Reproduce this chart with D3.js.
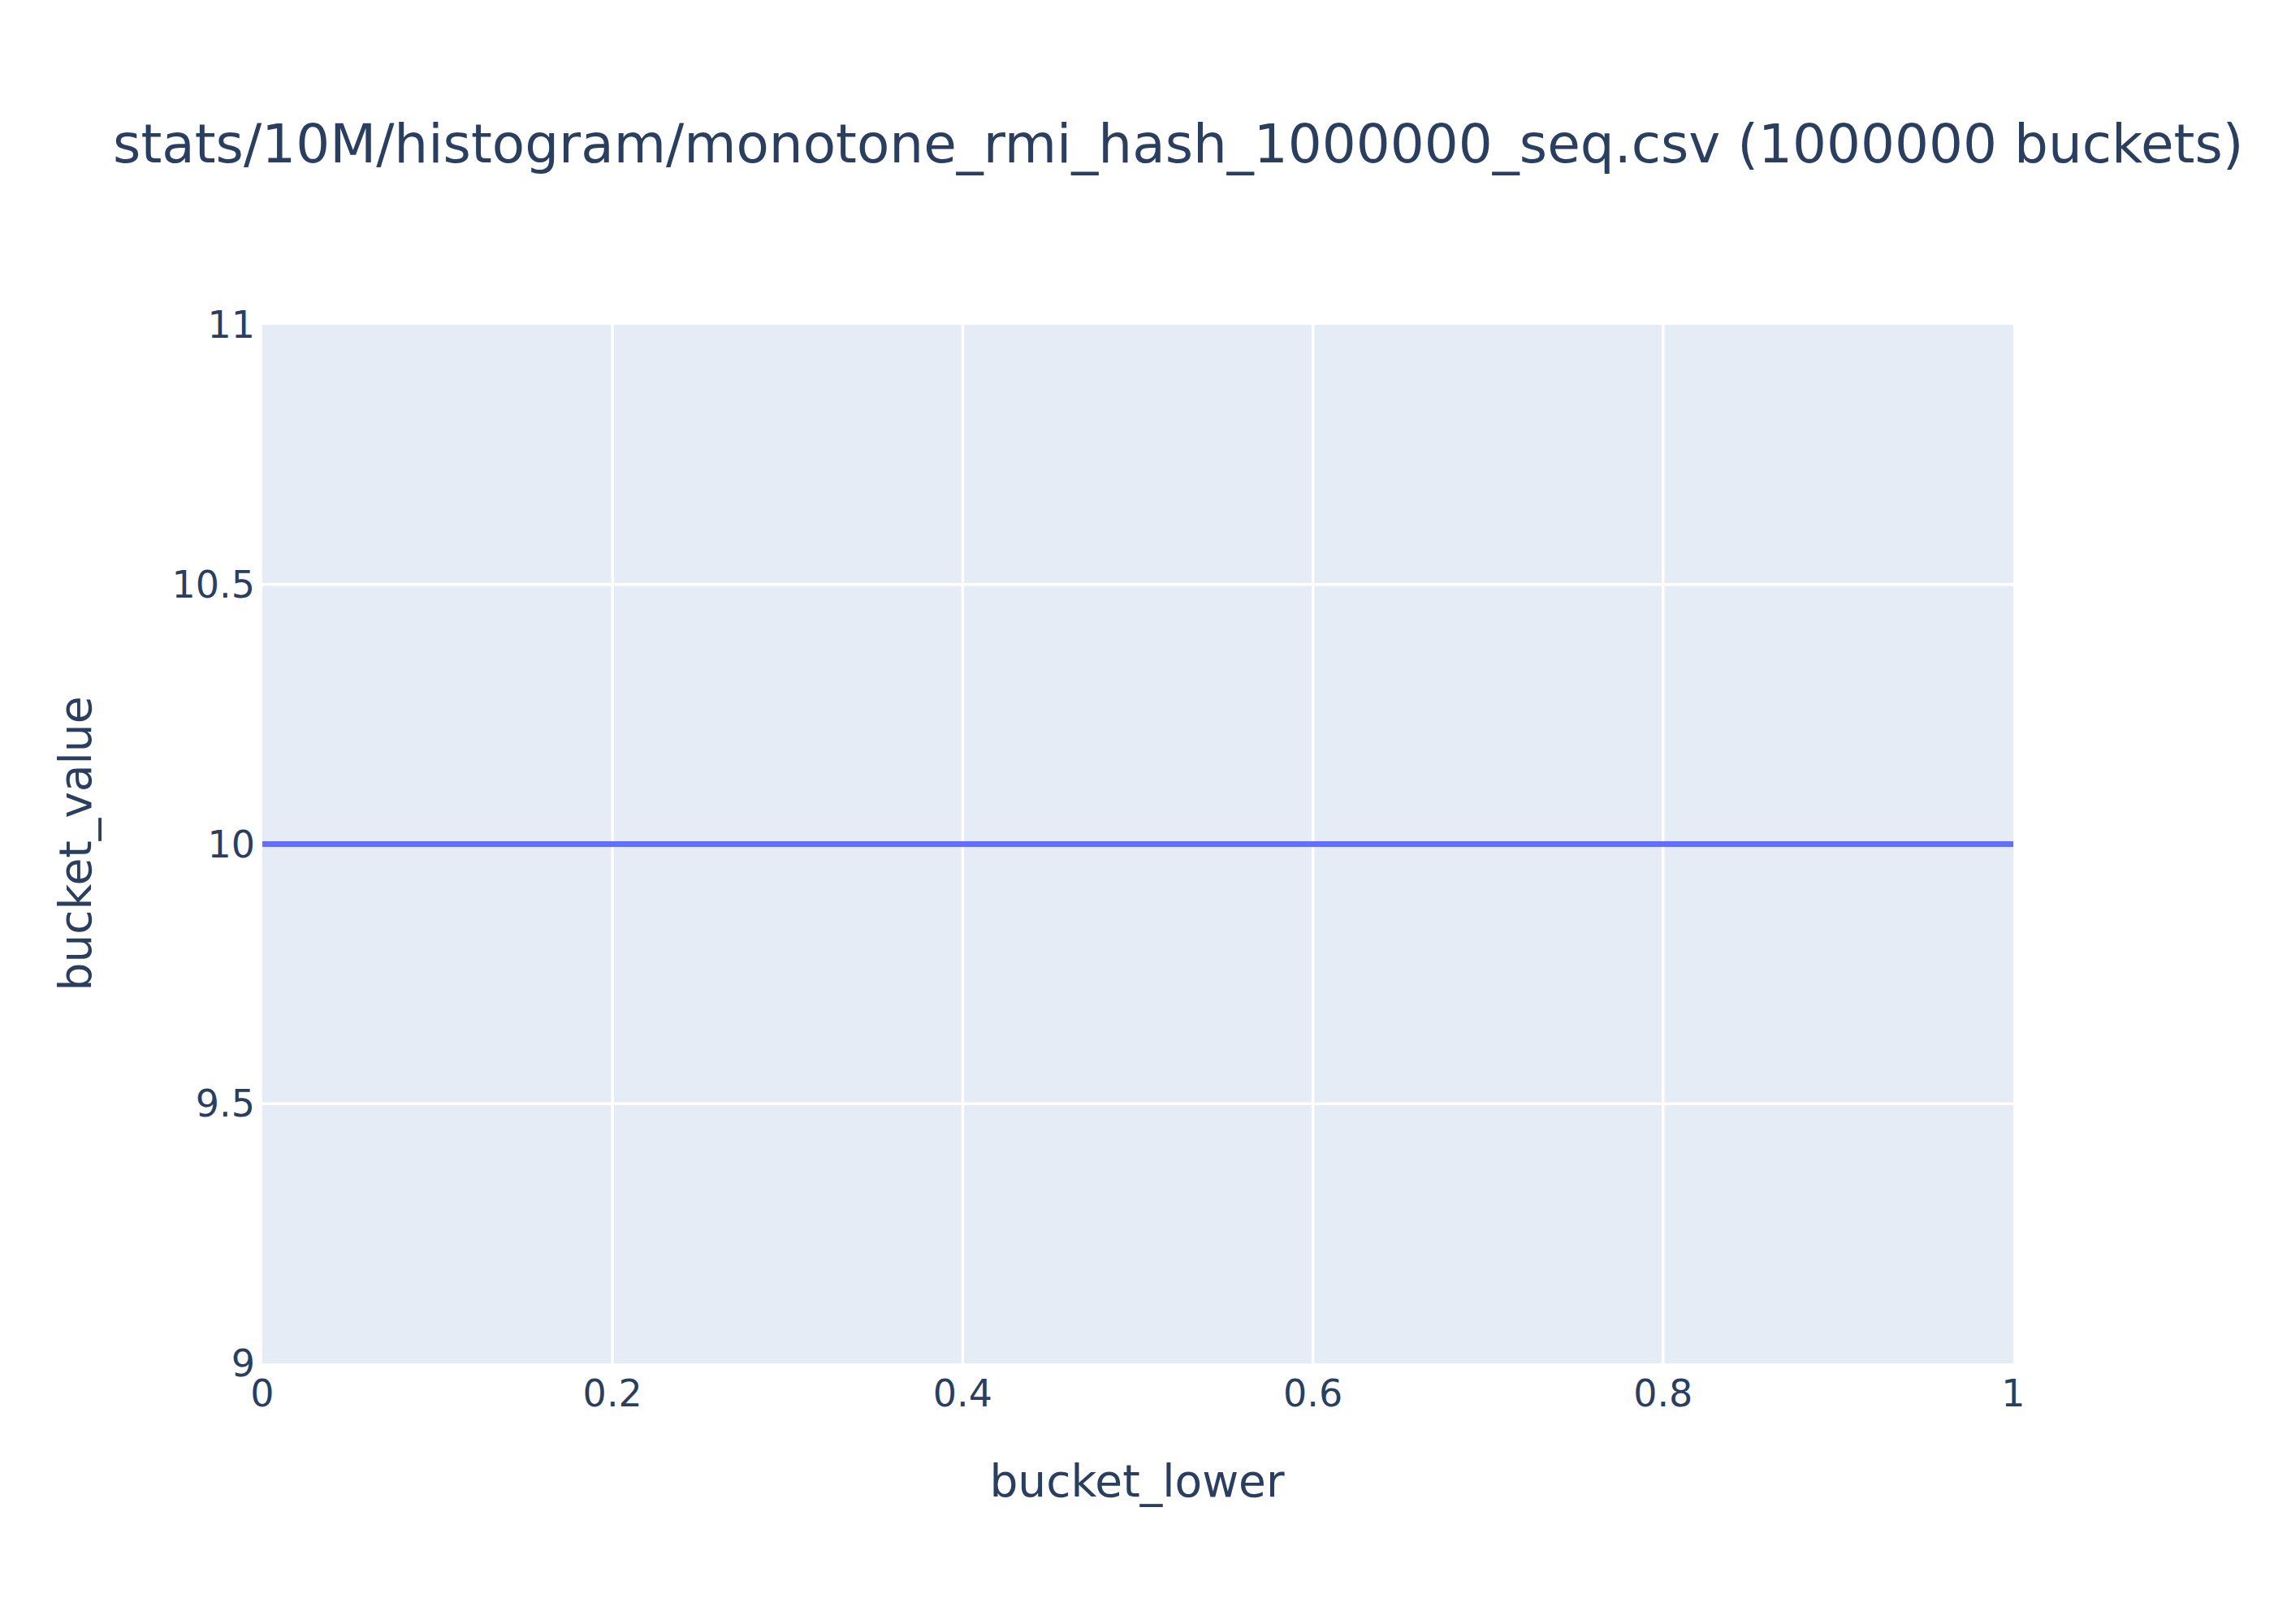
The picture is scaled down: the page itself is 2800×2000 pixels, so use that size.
<!DOCTYPE html>
<html><head><meta charset="utf-8">
<script src="https://cdn.jsdelivr.net/npm/d3@7"></script>
<style>body{margin:0;background:#fff}svg{display:block}</style>
</head><body>
<script>
const bucketLower = [0, 1];
const bucketValue = [10, 10];
const xTicks = [0, 0.2, 0.4, 0.6, 0.8, 1];
const yTicks = [9, 9.5, 10, 10.5, 11];
const titleText = "stats/10M/histogram/monotone_rmi_hash_1000000_seq.csv (1000000 buckets)";

const W = 2800, H = 2000;
const m = {l: 323, r: 2479, t: 400, b: 1679};
const font = "'DejaVu Sans', 'Open Sans', sans-serif";
const col = "#2a3f5f";
const svg = d3.select("body").append("svg").attr("width", W).attr("height", H);
const x = d3.scaleLinear().domain([0, 1]).range([m.l, m.r]);
const y = d3.scaleLinear().domain([9, 11]).range([m.b, m.t]);

svg.append("rect").attr("x", m.l).attr("y", m.t).attr("width", m.r - m.l).attr("height", m.b - m.t).attr("fill", "#e5ecf6");

svg.append("g").selectAll("line").data(xTicks.slice(1, -1)).join("line")
  .attr("x1", d => x(d)).attr("x2", d => x(d)).attr("y1", m.t).attr("y2", m.b)
  .attr("stroke", "#fff").attr("stroke-width", 3.5);
svg.append("g").selectAll("line").data(yTicks.slice(1, -1)).join("line")
  .attr("x1", m.l).attr("x2", m.r).attr("y1", d => y(d)).attr("y2", d => y(d))
  .attr("stroke", "#fff").attr("stroke-width", 3.5);

const line = d3.line().x((d, i) => x(bucketLower[i])).y(d => y(d));
svg.append("path").datum(bucketValue).attr("d", line).attr("fill", "none")
  .attr("stroke", "#636efa").attr("stroke-width", 7);

svg.append("g").selectAll("text").data(xTicks).join("text")
  .attr("x", d => x(d)).attr("y", 1732).attr("text-anchor", "middle")
  .attr("font-family", font).attr("font-size", 46).attr("fill", col).text(d => d3.format("")(d));
svg.append("g").selectAll("text").data(yTicks).join("text")
  .attr("x", 314).attr("y", d => y(d) + 16).attr("text-anchor", "end")
  .attr("font-family", font).attr("font-size", 46).attr("fill", col).text(d => d3.format("")(d));

svg.append("text").attr("x", 139).attr("y", 200).attr("font-family", font).attr("font-size", 66)
  .attr("fill", col).text(titleText);
svg.append("text").attr("x", 1400).attr("y", 1843).attr("text-anchor", "middle").attr("font-family", font)
  .attr("font-size", 55).attr("fill", col).text("bucket_lower");
svg.append("text").attr("transform", "translate(112,1039) rotate(-90)").attr("text-anchor", "middle")
  .attr("font-family", font).attr("font-size", 55).attr("fill", col).text("bucket_value");
</script>
</body></html>
